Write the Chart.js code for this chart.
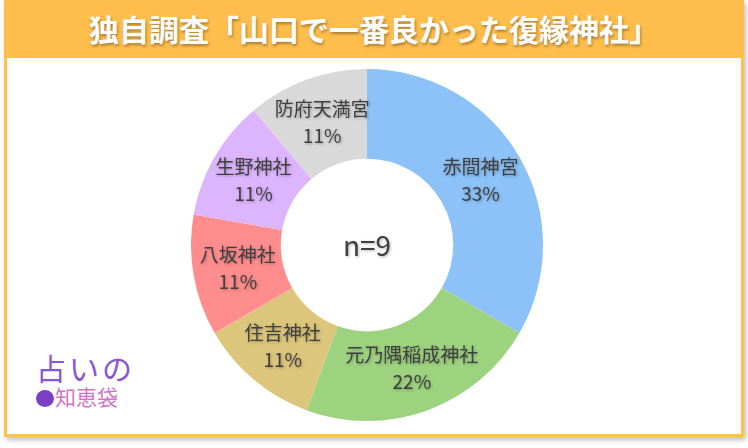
<!DOCTYPE html>
<html>
<head>
<meta charset="utf-8">
<script src="https://cdn.jsdelivr.net/npm/chart.js@4/dist/chart.umd.min.js"></script>
<style>
  body { margin: 0; background: #fff; font-family: "Noto Sans CJK JP", sans-serif; }
  #wrap { position: relative; width: 748px; height: 448px; overflow: hidden; }
  #frame {
    position: absolute; left: 4px; top: 0; width: 734px; height: 434px;
    border: 3px solid #FFC24F; border-top: none;
    box-shadow: 2px 3px 5px rgba(0,0,0,0.25);
    background: #fff;
  }
  #title {
    position: absolute; left: 4px; top: 0; width: 740px; height: 58px;
    background: #FFBE4B; color: #fff; font-weight: bold; font-size: 30px;
    line-height: 56px; text-align: center; text-shadow: 1px 2px 3px rgba(0,0,0,0.35);
  }
  #chartBox { position: absolute; left: 191px; top: 69px; width: 352px; height: 352px; }
  #logo { position: absolute; left: 36px; top: 352px; line-height: 1; }
  #logo .l1 { font-size: 30px; color: #8A55D6; letter-spacing: 3px; }
  #logo .l2 { font-size: 21px; color: #D074C8; margin-top: 4px; }
  #logo .bag { display: inline-block; width: 18px; height: 17px; border-radius: 50%; background: #7B3FC4; vertical-align: -2px; margin-right: 1px; }
</style>
</head>
<body>
<div id="wrap">
  <div id="frame"></div>
  <div id="title">独自調査「山口で一番良かった復縁神社」</div>
  <div id="chartBox"><canvas id="donut"></canvas></div>
  <div id="logo">
    <div class="l1">占いの</div>
    <div class="l2"><span class="bag"></span>知恵袋</div>
  </div>
</div>
<script>
const labels = ['赤間神宮', '元乃隅稲成神社', '住吉神社', '八坂神社', '生野神社', '防府天満宮'];
const counts = [3, 2, 1, 1, 1, 1];
const colors = ['#8CC2F8', '#9DD37F', '#DCC67C', '#FF8D8D', '#DDB5FE', '#D9D9D9'];
const centerText = 'n=9';

const total = counts.reduce((a, b) => a + b, 0);

// draws "name / pct" inside each ring segment and the n in the hole
const sliceLabels = {
  id: 'sliceLabels',
  afterDatasetsDraw(chart) {
    const ctx = chart.ctx;
    const meta = chart.getDatasetMeta(0);
    ctx.save();
    ctx.textAlign = 'center';
    ctx.textBaseline = 'middle';
    ctx.shadowColor = 'rgba(0,0,0,0.3)';
    ctx.shadowBlur = 3;
    ctx.shadowOffsetX = 1;
    ctx.shadowOffsetY = 1;
    ctx.fillStyle = '#404040';
    meta.data.forEach((arc, i) => {
      const p = arc.getProps(['x', 'y', 'startAngle', 'endAngle', 'innerRadius', 'outerRadius'], true);
      const a = (p.startAngle + p.endAngle) / 2;
      const r = (p.innerRadius + p.outerRadius) / 2;
      const x = p.x + Math.cos(a) * r;
      const y = p.y + Math.sin(a) * r;
      const pct = Math.round(counts[i] / total * 100) + '%';
      ctx.font = '19px "Noto Sans CJK JP"';
      ctx.fillText(labels[i], x, y - 13);
      ctx.fillText(pct, x, y + 14);
    });
    const c = meta.data[0];
    ctx.font = '28px "Noto Sans CJK JP"';
    ctx.fillText(centerText, c.x, c.y);
    ctx.restore();
  }
};

new Chart(document.getElementById('donut'), {
  type: 'doughnut',
  data: {
    labels: labels,
    datasets: [{
      data: counts,
      backgroundColor: colors,
      borderWidth: 0
    }]
  },
  options: {
    responsive: true,
    maintainAspectRatio: false,
    animation: false,
    cutout: '49%',
    layout: { padding: 0 },
    plugins: {
      legend: { display: false },
      tooltip: { enabled: false }
    }
  },
  plugins: [sliceLabels]
});
</script>
</body>
</html>
